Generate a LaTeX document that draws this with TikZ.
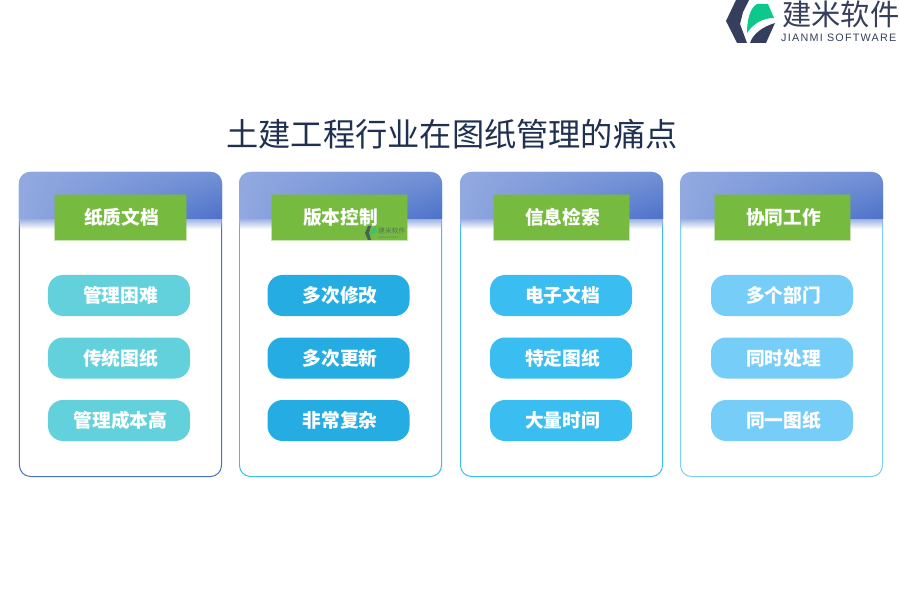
\documentclass[tikz,border=0pt]{standalone}
\usepackage{fontspec}
\setmainfont{Noto Sans CJK SC}
\newfontfamily\logofont[LetterSpace=11.5]{Liberation Sans}
\usetikzlibrary{positioning,fadings,shadings}

\definecolor{cardone}{HTML}{4A70C8}
\definecolor{cardtwo}{HTML}{3DBDEC}
\definecolor{cardthree}{HTML}{3DBDEC}
\definecolor{cardfour}{HTML}{7ACEF8}
\definecolor{pillone}{HTML}{63D1DB}
\definecolor{pilltwo}{HTML}{25ADE3}
\definecolor{pillthree}{HTML}{3ABDF1}
\definecolor{pillfour}{HTML}{76CDF8}
\definecolor{headleft}{HTML}{92A9E0}
\definecolor{headmid}{HTML}{7391D6}
\definecolor{headright}{HTML}{4C71C9}
\definecolor{tabgreen}{HTML}{76BB40}
\definecolor{logodark}{HTML}{353E5C}
\definecolor{logogreen}{HTML}{0CC98B}
\definecolor{titleblue}{HTML}{1F3050}

\tikzset{
	cardbox/.style={draw=#1, line width=0.85pt, rounded corners=0.33cm,
		minimum width=6.06cm, minimum height=9.12cm, inner sep=0pt, fill=white},
	headbox/.style={shade, lower left=headleft, upper left=headleft,
		upper right=headmid, lower right=headright},
	headglow/.style={fill=headright!55, path fading=south},
	tabbox/.style={fill=tabgreen, draw=tabgreen, draw opacity=0.4, line width=1.2pt,
		text=white, font=\fontsize{16}{16}\selectfont\bfseries,
		execute at begin node=\hspace{0.06cm},
		minimum width=#1, minimum height=1.36cm, inner sep=0pt},
	pillbox/.style={fill=#1, text=white, font=\fontsize{16}{16}\selectfont\bfseries,
		execute at begin node=\hspace{0.09cm},
		rounded corners=0.45cm, minimum width=4.26cm, minimum height=1.23cm, inner sep=0pt},
	logotext/.style={inner sep=0pt, text=logodark, anchor=west},
}

% header band of a card, with its soft lower edge
\newcommand{\headband}[1]{
	\fill[headglow] (#1.west |- 0,219) rectangle (#1.east |- 0,229);
	\path[headbox] (#1.west |- 0,219) [rounded corners=0.33cm] -- (#1.north west)
		-- (#1.north east) [sharp corners] -- (#1.east |- 0,219) -- cycle;
}

\begin{document}
\begin{tikzpicture}[x=0.03cm, y=-0.03cm, node distance=0.63cm, on grid]
\useasboundingbox (0,0) rectangle (900,600);

% Title
\node[text=titleblue, font=\fontsize{27.5}{27.5}\selectfont] (title) at (452,134) {土建工程行业在图纸管理的痛点};

%%%%%%%%%%%%%%%%%%%
% Logo
\fill[logodark] (736,0) -- (749,0) -- (743,12) -- (740,24) -- (747,43) -- (737,43) -- (726,21) -- cycle;
\fill[logogreen] (747,33) .. controls (747,20) and (750,8) .. (757,4) -- (768,4) -- (774,18) .. controls (762,18) and (753,24) .. (747,33) -- cycle;
\fill[logodark] (750,43) .. controls (753,34) and (762,27) .. (775,23) -- (766,43) -- cycle;
\node[logotext, font=\fontsize{25}{25}\selectfont] (logo_name) at (782,14) {建米软件};
\node[logotext, font=\logofont\fontsize{9.2}{9.2}\selectfont] (logo_sub) at (781,38) {JIANMI SOFTWARE};

%%%%%%%%%%%%%%%%%%%
% Paper documents
\node[cardbox=cardone] (card_paper) at (120.5,324.5) {};
\headband{card_paper}
\node[tabbox=3.93cm] (tab_paper) at (120.5,217.5) {纸质文档};
\node[pillbox=pillone] (paper_a) at (119,295.5) {管理困难};
\node[pillbox=pillone, below=1.875cm of paper_a] (paper_b) {传统图纸};
\node[pillbox=pillone, below=1.875cm of paper_b] (paper_c) {管理成本高};

%%%%%%%%%%%%%%%%%%%
% Version control
\node[cardbox=cardtwo] (card_version) at (340.5,324.5) {};
\headband{card_version}
\node[tabbox=4.05cm] (tab_version) at (339.5,217.5) {版本控制};
\node[pillbox=pilltwo] (version_a) at (338.5,295.5) {多次修改};
\node[pillbox=pilltwo, below=1.875cm of version_a] (version_b) {多次更新};
\node[pillbox=pilltwo, below=1.875cm of version_b] (version_c) {非常复杂};

% Watermark
\fill[logodark!70!tabgreen] (368,226) -- (371,226) -- (369,233) -- (371,240) -- (368,240) -- (365,233) -- cycle;
\fill[logogreen!55!tabgreen] (370,236) .. controls (370,231) and (372,227) .. (376,226.5) -- (377,232) .. controls (374,232) and (372,234) .. (370,236) -- cycle;
\node[inner sep=0pt, text=logodark!55!tabgreen, anchor=west, font=\fontsize{5.8}{5.8}\selectfont] (mark_name) at (378,231) {建米软件};
\node[inner sep=0pt, text=logodark!45!tabgreen, anchor=west, font=\fontsize{2}{2}\selectfont] (mark_sub) at (378,238) {JIANMI SOFTWARE};

%%%%%%%%%%%%%%%%%%%
% Information search
\node[cardbox=cardthree] (card_search) at (561.5,324.5) {};
\headband{card_search}
\node[tabbox=4.05cm] (tab_search) at (561.5,217.5) {信息检索};
\node[pillbox=pillthree] (search_a) at (561,295.5) {电子文档};
\node[pillbox=pillthree, below=1.875cm of search_a] (search_b) {特定图纸};
\node[pillbox=pillthree, below=1.875cm of search_b] (search_c) {大量时间};

%%%%%%%%%%%%%%%%%%%
% Collaboration
\node[cardbox=cardfour] (card_work) at (781.5,324.5) {};
\headband{card_work}
\node[tabbox=4.05cm] (tab_work) at (782.5,217.5) {协同工作};
\node[pillbox=pillfour] (work_a) at (782,295.5) {多个部门};
\node[pillbox=pillfour, below=1.875cm of work_a] (work_b) {同时处理};
\node[pillbox=pillfour, below=1.875cm of work_b] (work_c) {同一图纸};

\end{tikzpicture}
\end{document}
